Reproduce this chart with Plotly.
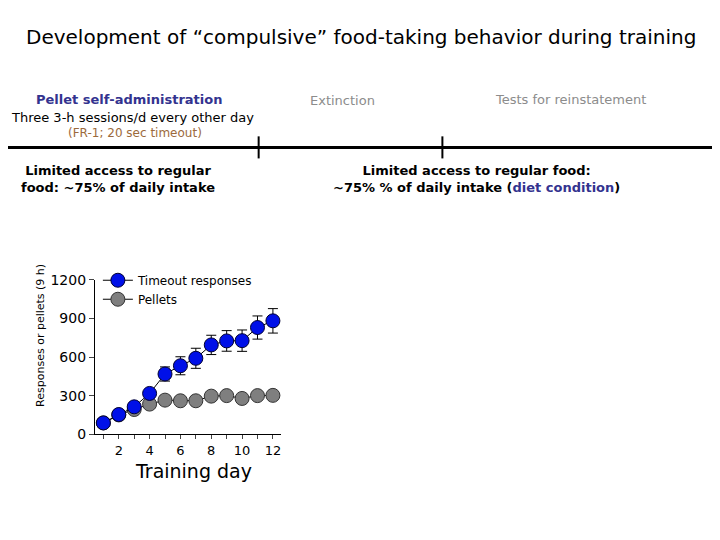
import plotly.graph_objs as go

days = [1, 2, 3, 4, 5, 6, 7, 8, 9, 10, 11, 12]
timeout_responses = [88, 153, 213, 317, 468, 532, 590, 694, 725, 727, 829, 881]
timeout_sem = [10, 15, 18, 20, 55, 70, 78, 75, 80, 83, 90, 95]
pellets = [88, 150, 192, 234, 265, 260, 260, 296, 300, 278, 300, 302]

x_tickvals = [1, 2, 3, 4, 5, 6, 7, 8, 9, 10, 11, 12]
x_ticktext = ['', '2', '', '4', '', '6', '', '8', '', '10', '', '12']
y_tickvals = [0, 300, 600, 900, 1200]

W, H = 720, 540
FONT = 'DejaVu Sans'
NAVY = '#33338f'
GREY = '#8c8c8c'
BROWN = '#9c6a3c'


# positions below are given in screenshot pixels; these map them back onto the figure
def px(x):
    return (x - 7) / W


def py(y):
    return 1 - ((y - 17) / 0.9675) / H


def note(text, x, y, size, color='black', xanchor='center', bold=False, angle=0):
    if bold:
        text = '<b>' + text + '</b>'
    return dict(text=text, x=px(x), y=py(y), xref='paper', yref='paper',
                xanchor=xanchor, yanchor='middle', showarrow=False,
                textangle=angle, font=dict(family=FONT, size=size, color=color))


def draw_chart():
    pellet_trace = go.Scatter(
        x=days, y=pellets, name='Pellets', mode='lines+markers',
        line=dict(color='black', width=1),
        marker=dict(size=14, color='#7f7f7f', line=dict(color='#333333', width=1)),
        cliponaxis=False, legendrank=2,
    )
    timeout_trace = go.Scatter(
        x=days, y=timeout_responses, name='Timeout responses', mode='lines+markers',
        line=dict(color='black', width=1),
        marker=dict(size=14, color='#0010e8', line=dict(color='#000033', width=1)),
        error_y=dict(type='data', array=timeout_sem, color='black', thickness=1, width=5),
        cliponaxis=False, legendrank=1,
    )

    annotations = [
        note('Development of \u201ccompulsive\u201d food-taking behavior during training', 360, 38, 20),
        note('Pellet self-administration', 128, 100, 13, NAVY, bold=True),
        note('Three 3-h sessions/d every other day', 132, 118, 13),
        note('(FR-1; 20 sec timeout)', 134, 134, 12, BROWN),
        note('Extinction', 342, 101, 13, GREY),
        note('Tests for reinstatement', 570, 100, 13, GREY),
        note('Limited access to regular<br>food: ~75% of daily intake', 18, 180, 13,
             xanchor='left', bold=True),
        note('Limited access to regular food:<br>~75% % of daily intake (<span style="color:' + NAVY +
             '">diet condition</span>)', 476, 180, 13, bold=True),
        note('Responses or pellets (9 h)', 40, 335, 11, angle=-90),
        note('Training day', 193, 471, 19),
    ]

    shapes = [
        dict(type='line', xref='paper', yref='paper', x0=px(5), x1=px(712), y0=py(148), y1=py(148),
             line=dict(color='black', width=3)),
        dict(type='line', xref='paper', yref='paper', x0=px(258), x1=px(258), y0=py(137), y1=py(159),
             line=dict(color='black', width=2)),
        dict(type='line', xref='paper', yref='paper', x0=px(442), x1=px(442), y0=py(137), y1=py(159),
             line=dict(color='black', width=2)),
    ]

    layout = go.Layout(
        width=W, height=H,
        margin=dict(l=0, r=0, t=0, b=0),
        paper_bgcolor='white', plot_bgcolor='white',
        showlegend=True,
        legend=dict(x=px(97), y=py(266), xanchor='left', yanchor='top',
                    font=dict(family=FONT, size=12, color='black'),
                    bgcolor='rgba(0,0,0,0)', tracegroupgap=0, itemwidth=30),
        xaxis=dict(domain=[px(94), px(280)], range=[0.45, 12.5],
                   tickvals=x_tickvals, ticktext=x_ticktext, ticks='outside', ticklen=4,
                   showline=True, linecolor='black', linewidth=1, showgrid=False, zeroline=False,
                   tickfont=dict(family=FONT, size=13, color='black')),
        yaxis=dict(domain=[py(434), py(280)], range=[0, 1200],
                   tickvals=y_tickvals, ticks='outside', ticklen=5,
                   showline=True, linecolor='black', linewidth=1, showgrid=False, zeroline=False,
                   tickfont=dict(family=FONT, size=14, color='black')),
        annotations=annotations,
        shapes=shapes,
    )

    fig = go.Figure(data=[pellet_trace, timeout_trace], layout=layout)
    fig.write_html('out.html')


if __name__ == '__main__':
    draw_chart()
